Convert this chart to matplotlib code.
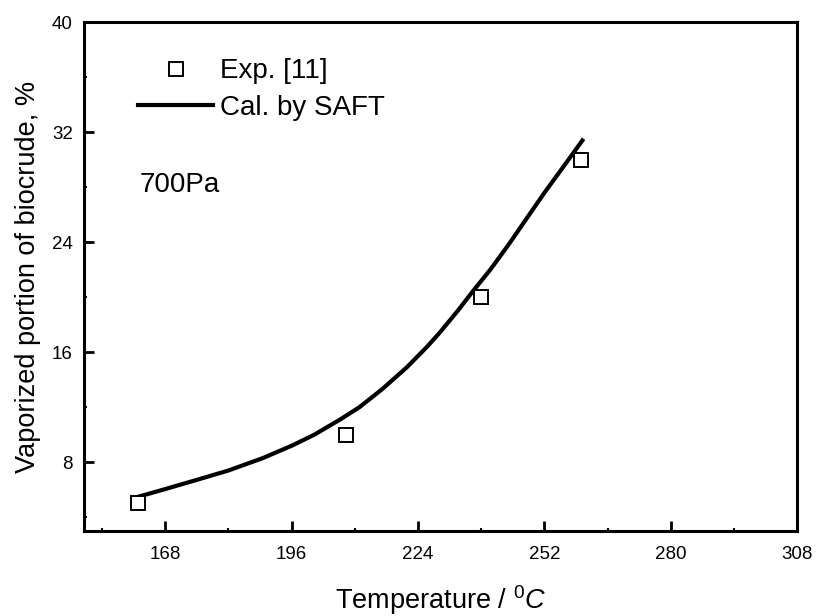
import numpy as np
import matplotlib.pyplot as plt
from matplotlib.ticker import MultipleLocator

plt.rcParams['font.family'] = ['Liberation Sans', 'DejaVu Sans']
plt.rcParams['mathtext.fontset'] = 'custom'
plt.rcParams['mathtext.rm'] = 'Liberation Sans'
plt.rcParams['mathtext.it'] = 'Liberation Sans:italic'

# experimental points
exp_T = [162, 208, 238, 260]
exp_y = [5.0, 10.0, 20.0, 30.0]

# SAFT calculation
cal_T = [161.8, 168, 174.8, 182, 189.6, 196, 201, 206.7, 211, 216, 221.5,
         226, 229, 233, 236.3, 240, 244, 248, 252, 256, 260.4]
cal_y = [5.47, 6.05, 6.7, 7.4, 8.3, 9.2, 10.0, 11.1, 12.0, 13.3, 14.9,
         16.4, 17.5, 19.1, 20.5, 22.0, 23.8, 25.7, 27.6, 29.4, 31.4]

fig = plt.figure(figsize=(8.16, 6.16), dpi=100)
ax = fig.add_axes([0.103, 0.138, 0.874, 0.826])

ax.plot(exp_T, exp_y, 's', ms=10.5, mfc='white', mec='black', mew=1.4,
        linestyle='none', label='Exp. [11]', zorder=3)
ax.plot(cal_T, cal_y, '-', color='black', lw=3, label='Cal. by SAFT', zorder=2)

ax.set_xlim(150, 308)
ax.set_ylim(3, 40)
ax.xaxis.set_major_locator(MultipleLocator(28))
ax.xaxis.set_minor_locator(MultipleLocator(14))
ax.yaxis.set_major_locator(MultipleLocator(8))
ax.yaxis.set_minor_locator(MultipleLocator(4))
ax.set_xticks(np.arange(168, 309, 28))
ax.set_yticks(np.arange(8, 41, 8))

for s in ax.spines.values():
    s.set_linewidth(2.2)
ax.tick_params(which='major', direction='in', length=7, width=2, labelsize=13.5)
ax.tick_params(axis='x', which='major', pad=11)
ax.tick_params(axis='y', which='major', pad=8)
ax.tick_params(which='minor', direction='in', length=2.5, width=1.5)

ax.set_xlabel('Temperature / $^{0}\\mathit{C}$', fontsize=19.5, labelpad=14)
ax.set_ylabel('Vaporized portion of biocrude, %', fontsize=19.5, labelpad=8)

ax.legend(loc='upper left', frameon=False, fontsize=20, handlelength=2.7,
          handletextpad=0.25, labelspacing=0.38, borderaxespad=0, borderpad=0,
          bbox_to_anchor=(0.0757, 0.929))
ax.text(0.0785, 0.666, '700Pa', transform=ax.transAxes, fontsize=20)

fig.savefig('out.png', dpi=100)
